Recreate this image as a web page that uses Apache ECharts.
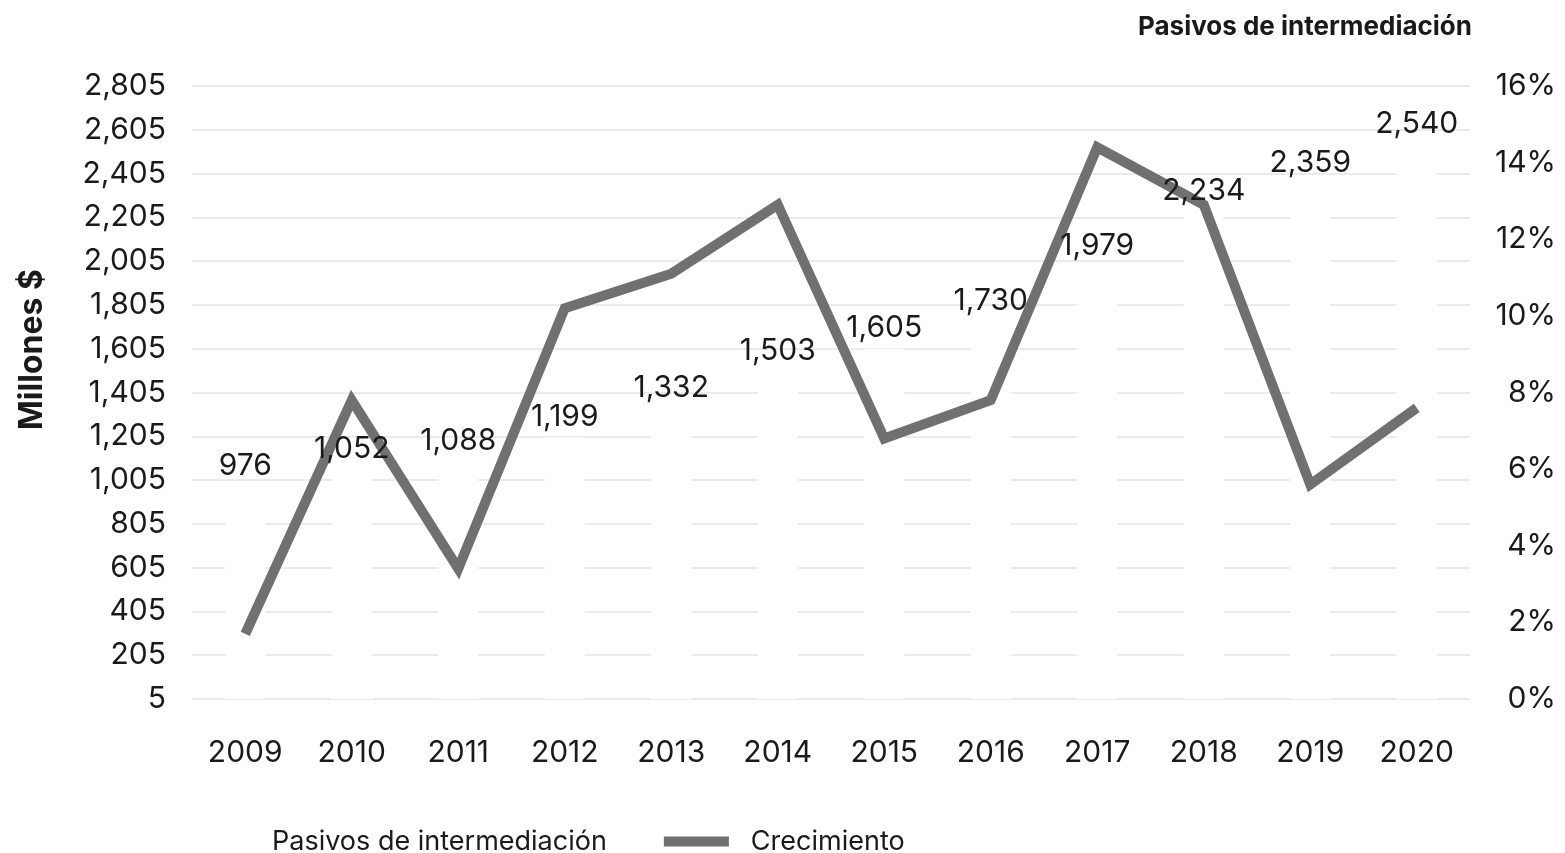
<!DOCTYPE html>
<html>
<head>
<meta charset="utf-8">
<script src="https://cdn.jsdelivr.net/npm/echarts@6/dist/echarts.min.js"></script>
<style>
  html, body { margin: 0; padding: 0; background: #fff; }
  #chart { width: 1565px; height: 853px; }
</style>
</head>
<body>
<div id="chart"></div>
<script>
// Años
const years = ['2009', '2010', '2011', '2012', '2013', '2014', '2015', '2016', '2017', '2018', '2019', '2020'];
// Pasivos de intermediación (millones $)
const pasivos = [976, 1052, 1088, 1199, 1332, 1503, 1605, 1730, 1979, 2234, 2359, 2540];
// Crecimiento anual (%)
const crecimiento = [1.7, 7.8, 3.4, 10.2, 11.1, 12.9, 6.8, 7.8, 14.4, 12.9, 5.6, 7.6];

const FONT = 'Inter, "Noto Sans", sans-serif';
const TXT = '#1a1a1a';
const fmt = v => Number(v).toLocaleString('en-US');

const chart = echarts.init(document.getElementById('chart'));
chart.setOption({
  animation: false,
  textStyle: { fontFamily: FONT, color: TXT },
  title: {
    text: 'Pasivos de intermediación',
    right: 88,
    top: 9,
    textStyle: { fontFamily: FONT, fontSize: 26, fontWeight: 'bold', color: TXT }
  },
  grid: { left: 192, right: 95, top: 86, bottom: 154 },
  legend: {
    data: ['Pasivos de intermediación', 'Crecimiento'],
    left: 180,
    top: 823,
    itemWidth: 65,
    itemHeight: 10,
    itemGap: 57,
    icon: 'rect',
    textStyle: { fontFamily: FONT, fontSize: 27, color: TXT, padding: [0, 0, 0, 17] }
  },
  xAxis: {
    type: 'category',
    data: years,
    axisLine: { show: false },
    axisTick: { show: false },
    axisLabel: { fontFamily: FONT, fontSize: 30, color: TXT, margin: 39 }
  },
  yAxis: [
    {
      type: 'value',
      name: 'Millones $',
      nameLocation: 'middle',
      nameGap: 144,
      nameRotate: 90,
      nameTextStyle: { fontFamily: FONT, fontSize: 32, fontWeight: 'bold', color: TXT, padding: [0, 0, 0, 86] },
      min: 5,
      max: 2805,
      interval: 200,
      axisLine: { show: false },
      axisTick: { show: false },
      axisLabel: { fontFamily: FONT, fontSize: 30, color: TXT, margin: 26, formatter: fmt },
      splitLine: { show: true, lineStyle: { color: '#ebebeb', width: 2 } }
    },
    {
      type: 'value',
      position: 'right',
      min: 0,
      max: 16,
      interval: 2,
      axisLine: { show: false },
      axisTick: { show: false },
      splitLine: { show: false },
      axisLabel: { fontFamily: FONT, fontSize: 30, color: TXT, margin: 86, align: 'right', formatter: '{value}%' }
    }
  ],
  series: [
    {
      name: 'Pasivos de intermediación',
      type: 'bar',
      yAxisIndex: 0,
      data: pasivos,
      barWidth: 40,
      z: 1,
      itemStyle: { color: '#ffffff' }
    },
    {
      name: 'Crecimiento',
      type: 'line',
      yAxisIndex: 1,
      data: crecimiento,
      symbol: 'none',
      z: 2,
      itemStyle: { color: '#707070' },
      lineStyle: { color: '#707070', width: 10, join: 'miter' }
    },
    {
      // value labels for the bars, kept above the growth line
      type: 'scatter',
      yAxisIndex: 0,
      data: pasivos,
      symbolSize: 1,
      z: 3,
      silent: true,
      itemStyle: { color: 'rgba(0,0,0,0)', opacity: 1 },
      label: {
        show: true,
        position: 'top',
        distance: 5,
        opacity: 1,
        fontFamily: FONT,
        fontSize: 30,
        color: TXT,
        formatter: p => fmt(p.value)
      }
    }
  ]
});
</script>
</body>
</html>
